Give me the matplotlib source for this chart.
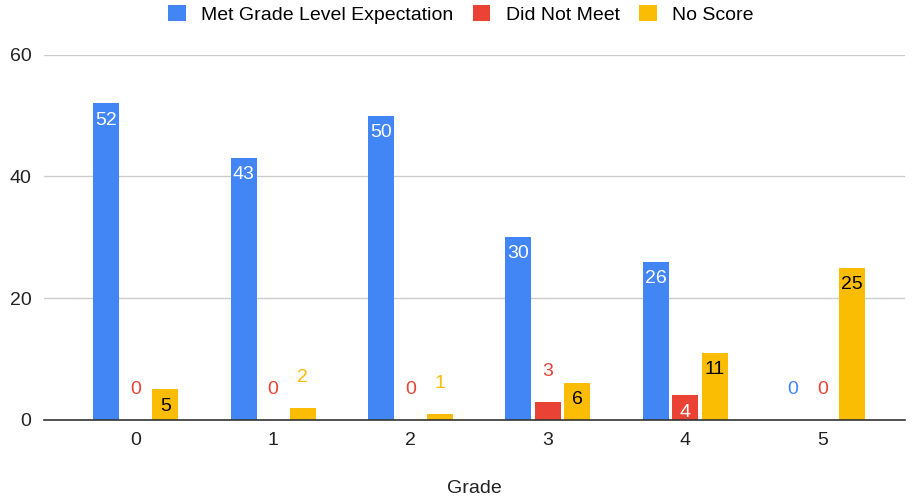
import matplotlib.pyplot as plt
import numpy as np

plt.rcParams['font.family'] = ['Liberation Sans', 'DejaVu Sans']

grades = ["0", "1", "2", "3", "4", "5"]
met = [52, 43, 50, 30, 26, 0]
not_met = [0, 0, 0, 3, 4, 0]
no_score = [5, 2, 1, 6, 11, 25]

series = [
    ("Met Grade Level Expectation", met, "#4285F4", "white"),
    ("Did Not Meet", not_met, "#EA4335", "white"),
    ("No Score", no_score, "#FBBC04", "black"),
]

fig = plt.figure(figsize=(9.13, 4.98), dpi=100)
ax = fig.add_axes([0.048, 0.157, 0.943, 0.733])

x = np.arange(len(grades))
w = 0.19
step = 0.215

for i, (name, vals, col, incol) in enumerate(series):
    pos = x + (i - 1) * step
    ax.bar(pos, vals, width=w, color=col, label=name, zorder=3)
    for p, v in zip(pos, vals):
        if v >= 4:
            ax.annotate(str(v), (p, v), xytext=(0, -12), textcoords="offset points",
                        ha="center", va="center", fontsize=14, color=incol, zorder=4)
        else:
            ax.annotate(str(v), (p, v), xytext=(0, 22), textcoords="offset points",
                        ha="center", va="center", fontsize=14, color=col, zorder=4)

ax.set_ylim(0, 60)
ax.set_xlim(-0.67, 5.6)
ax.set_yticks([0, 20, 40, 60])
ax.set_xticks(x)
ax.set_xticklabels(grades)
ax.tick_params(length=0, labelsize=14, colors="#222222")
ax.tick_params(axis="x", pad=9)
ax.tick_params(axis="y", pad=9)
ax.grid(axis="y", color="#cccccc", linewidth=1, zorder=0)

for s in ["top", "right", "left"]:
    ax.spines[s].set_visible(False)
ax.spines["bottom"].set_color("#333333")
ax.spines["bottom"].set_linewidth(1.2)
ax.spines["bottom"].set_zorder(5)

ax.set_xlabel("Grade", fontsize=14, color="#222222", labelpad=22)

fig.legend(loc="upper center", bbox_to_anchor=(0.505, 1.025), ncol=3, frameon=False,
           fontsize=14, handlelength=0.9, handleheight=0.9, columnspacing=1.0,
           handletextpad=0.8)

plt.savefig("out.png", dpi=100)
